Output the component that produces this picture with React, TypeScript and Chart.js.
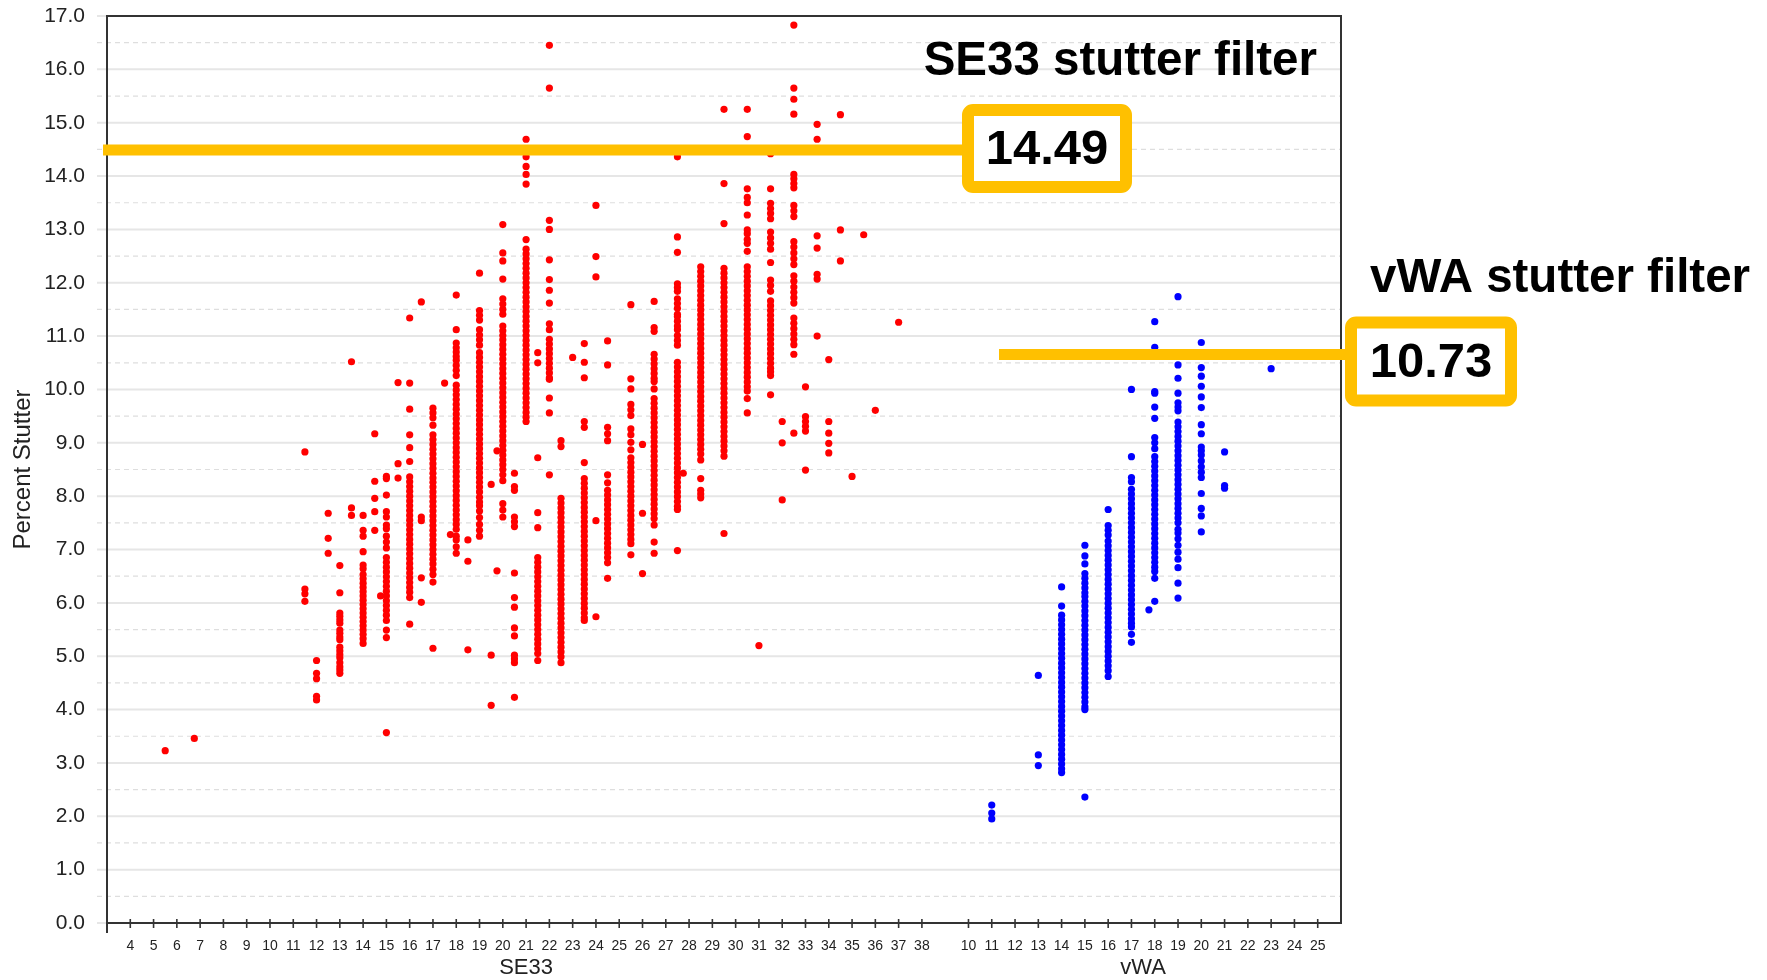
import React, { useEffect, useRef } from "react";
import { Chart, registerables } from "chart.js";

Chart.register(...registerables);

// ---------- axis labels ----------
const SE33_TICK_LABELS = ["4","5","6","7","8","9","10","11","12","13","14","15","16","17","18","19","20","21","22","23","24","25","26","27","28","29","30","31","32","33","34","35","36","37","38"];
const VWA_TICK_LABELS = ["10","11","12","13","14","15","16","17","18","19","20","21","22","23","24","25"];
const LOCUS_TITLES = ["SE33", "vWA"];
const Y_TITLE = "Percent Stutter";
const Y_MIN = 0;
const Y_MAX = 17;

// ---------- stutter filters ----------
const SE33_FILTER = 14.49;
const VWA_FILTER = 10.73;
const FILTER_TITLES = ["SE33 stutter filter", "vWA stutter filter"];

// ---------- SE33 percent stutter, by allele ----------
const SE33_5_2 = [3.23];
const SE33_6_3 = [3.46];
const SE33_11_2 = [8.83, 6.26, 6.17, 6.03];
const SE33_12 = [4.92, 4.68, 4.58, 4.25, 4.18];
const SE33_12_2 = [7.68, 7.21, 6.93];
const SE33_13 = [6.70, 6.19, 5.81, 5.75, 5.68, 5.62, 5.49, 5.43, 5.36, 5.31, 5.17, 5.10, 5.03, 4.97, 4.88, 4.80, 4.74, 4.68];
const SE33_13_2 = [10.52, 7.78, 7.64];
const SE33_14 = [7.64, 7.36, 7.25, 6.96, 6.71, 6.64, 6.53, 6.45, 6.37, 6.29, 6.21, 6.13, 6.05, 5.97, 5.89, 5.81, 5.73, 5.65, 5.57, 5.49, 5.41, 5.33, 5.24];
const SE33_14_2 = [9.17, 8.28, 7.96, 7.71, 7.36];
const SE33_14_3 = [6.13];
const SE33_15 = [8.37, 8.33, 8.02, 7.71, 7.61, 7.46, 7.39, 7.25, 7.14, 7.03, 6.85, 6.76, 6.67, 6.58, 6.49, 6.40, 6.31, 6.22, 6.13, 6.04, 5.95, 5.86, 5.77, 5.67, 5.49, 5.35, 3.57];
const SE33_15_2 = [10.13, 8.61, 8.34];
const SE33_16 = [11.34, 10.12, 9.63, 9.15, 8.91, 8.65, 8.36, 8.27, 8.18, 8.09, 8.00, 7.91, 7.82, 7.73, 7.64, 7.55, 7.46, 7.37, 7.28, 7.19, 7.10, 7.01, 6.92, 6.83, 6.74, 6.65, 6.56, 6.47, 6.38, 6.29, 6.20, 6.10, 5.60];
const SE33_16_2 = [11.64, 7.61, 7.54, 6.47, 6.01];
const SE33_17 = [9.65, 9.56, 9.47, 9.33, 9.15, 9.06, 8.97, 8.88, 8.79, 8.70, 8.61, 8.52, 8.43, 8.34, 8.26, 8.17, 8.08, 7.99, 7.90, 7.81, 7.72, 7.63, 7.54, 7.45, 7.36, 7.27, 7.18, 7.09, 7.00, 6.91, 6.82, 6.73, 6.63, 6.53, 6.39, 5.15];
const SE33_17_2 = [10.12];
const SE33_17_3 = [7.28];
const SE33_18 = [11.77, 11.12, 10.87, 10.78, 10.70, 10.62, 10.55, 10.45, 10.36, 10.26, 10.08, 9.99, 9.90, 9.81, 9.72, 9.63, 9.54, 9.45, 9.36, 9.27, 9.18, 9.09, 9.00, 8.91, 8.82, 8.73, 8.64, 8.55, 8.46, 8.37, 8.28, 8.19, 8.10, 8.01, 7.92, 7.83, 7.74, 7.65, 7.56, 7.47, 7.38, 7.25, 7.18, 7.05, 6.93];
const SE33_18_2 = [7.18, 6.78, 5.12];
const SE33_19 = [12.18, 11.48, 11.39, 11.30, 11.12, 11.02, 10.93, 10.83, 10.69, 10.60, 10.51, 10.42, 10.33, 10.24, 10.15, 10.06, 9.97, 9.88, 9.79, 9.70, 9.61, 9.52, 9.43, 9.34, 9.25, 9.16, 9.07, 8.98, 8.89, 8.80, 8.71, 8.62, 8.53, 8.44, 8.35, 8.26, 8.17, 8.08, 7.98, 7.89, 7.82, 7.72, 7.60, 7.47, 7.36, 7.25];
const SE33_19_2 = [8.22, 5.02, 4.08];
const SE33_19_3 = [8.85, 6.60];
const SE33_20 = [13.09, 12.56, 12.41, 12.07, 11.70, 11.60, 11.50, 11.41, 11.19, 11.10, 11.01, 10.93, 10.84, 10.75, 10.66, 10.57, 10.48, 10.39, 10.30, 10.21, 10.12, 10.03, 9.94, 9.85, 9.76, 9.67, 9.58, 9.49, 9.40, 9.31, 9.22, 9.13, 9.04, 8.95, 8.86, 8.77, 8.68, 8.59, 8.50, 8.40, 8.29, 7.86, 7.74, 7.61];
const SE33_20_2 = [8.43, 8.18, 8.11, 7.61, 7.52, 7.43, 6.56, 6.10, 5.92, 5.53, 5.38, 5.02, 4.95, 4.88, 4.23];
const SE33_21 = [14.69, 14.36, 14.18, 14.03, 13.85, 12.81, 12.63, 12.54, 12.45, 12.36, 12.27, 12.18, 12.09, 12.00, 11.91, 11.82, 11.73, 11.64, 11.55, 11.46, 11.37, 11.28, 11.19, 11.10, 11.01, 10.92, 10.83, 10.74, 10.65, 10.56, 10.47, 10.38, 10.29, 10.20, 10.11, 10.02, 9.93, 9.84, 9.75, 9.66, 9.57, 9.48, 9.40];
const SE33_21_2 = [10.69, 10.50, 8.72, 7.69, 7.41, 6.85, 6.76, 6.67, 6.58, 6.49, 6.40, 6.31, 6.22, 6.13, 6.04, 5.95, 5.86, 5.77, 5.68, 5.59, 5.50, 5.41, 5.32, 5.23, 5.14, 5.05, 4.92];
const SE33_22 = [16.45, 15.65, 13.17, 13.00, 12.43, 12.06, 11.86, 11.62, 11.23, 11.12, 10.94, 10.85, 10.76, 10.67, 10.58, 10.49, 10.40, 10.31, 10.22, 10.19, 9.84, 9.56, 8.40];
const SE33_22_2 = [9.04, 8.93, 7.96, 7.87, 7.78, 7.69, 7.60, 7.51, 7.42, 7.33, 7.24, 7.15, 7.06, 6.97, 6.88, 6.79, 6.70, 6.61, 6.52, 6.43, 6.34, 6.25, 6.16, 6.07, 5.98, 5.89, 5.80, 5.71, 5.62, 5.53, 5.44, 5.35, 5.26, 5.17, 5.08, 4.99, 4.88];
const SE33_23 = [10.60];
const SE33_23_2 = [10.86, 10.51, 10.22, 9.40, 9.29, 8.63, 8.33, 8.24, 8.15, 8.06, 7.97, 7.88, 7.79, 7.70, 7.61, 7.52, 7.43, 7.34, 7.25, 7.16, 7.07, 6.98, 6.89, 6.80, 6.71, 6.62, 6.53, 6.44, 6.35, 6.26, 6.17, 6.08, 5.99, 5.90, 5.81, 5.72, 5.67];
const SE33_24 = [13.45, 12.49, 12.11, 7.54, 5.74];
const SE33_24_2 = [10.91, 10.46, 9.29, 9.17, 9.04, 8.40, 8.25, 8.11, 8.02, 7.93, 7.84, 7.75, 7.66, 7.57, 7.48, 7.39, 7.30, 7.21, 7.12, 7.03, 6.94, 6.85, 6.75, 6.46];
const SE33_25_2 = [11.59, 10.20, 10.01, 9.72, 9.62, 9.51, 9.26, 9.15, 9.01, 8.87, 8.72, 8.63, 8.54, 8.45, 8.36, 8.27, 8.18, 8.09, 8.00, 7.91, 7.82, 7.73, 7.64, 7.55, 7.46, 7.37, 7.28, 7.19, 7.11, 6.90];
const SE33_26 = [8.97, 7.68, 6.55];
const SE33_26_2 = [11.65, 11.16, 11.09, 10.66, 10.57, 10.48, 10.39, 10.30, 10.21, 10.15, 10.01, 9.83, 9.74, 9.65, 9.56, 9.47, 9.38, 9.29, 9.20, 9.11, 9.02, 8.93, 8.84, 8.75, 8.66, 8.57, 8.48, 8.39, 8.30, 8.21, 8.12, 8.03, 7.94, 7.85, 7.76, 7.67, 7.58, 7.46, 7.14, 6.93];
const SE33_27_2 = [14.36, 12.86, 12.57, 11.98, 11.91, 11.84, 11.70, 11.61, 11.52, 11.41, 11.37, 11.28, 11.19, 11.12, 11.01, 10.92, 10.83, 10.51, 10.42, 10.33, 10.24, 10.15, 10.06, 9.97, 9.88, 9.79, 9.70, 9.61, 9.52, 9.43, 9.34, 9.25, 9.16, 9.07, 8.98, 8.89, 8.80, 8.71, 8.62, 8.53, 8.44, 8.35, 8.26, 8.17, 8.08, 7.99, 7.90, 7.81, 7.75, 6.98];
const SE33_27_3 = [8.43];
const SE33_28_2 = [12.30, 12.21, 12.12, 12.03, 11.94, 11.85, 11.76, 11.67, 11.58, 11.49, 11.40, 11.31, 11.22, 11.13, 11.04, 10.95, 10.86, 10.77, 10.68, 10.59, 10.50, 10.41, 10.32, 10.23, 10.14, 10.05, 9.96, 9.87, 9.78, 9.69, 9.60, 9.51, 9.42, 9.33, 9.24, 9.15, 9.06, 8.97, 8.88, 8.79, 8.68, 8.33, 8.11, 8.04, 7.97];
const SE33_29_2 = [15.25, 13.86, 13.11, 12.27, 12.18, 12.09, 12.00, 11.91, 11.82, 11.73, 11.64, 11.55, 11.46, 11.37, 11.28, 11.19, 11.10, 11.01, 10.92, 10.83, 10.74, 10.65, 10.56, 10.47, 10.38, 10.29, 10.20, 10.11, 10.02, 9.93, 9.84, 9.75, 9.66, 9.57, 9.48, 9.39, 9.30, 9.21, 9.12, 9.03, 8.94, 8.85, 8.75, 7.30];
const SE33_30_2 = [15.25, 14.74, 13.76, 13.60, 13.50, 13.27, 12.99, 12.92, 12.81, 12.74, 12.59, 12.30, 12.21, 12.12, 12.03, 11.94, 11.85, 11.76, 11.67, 11.58, 11.49, 11.40, 11.31, 11.22, 11.13, 11.04, 10.95, 10.86, 10.77, 10.68, 10.59, 10.50, 10.41, 10.32, 10.23, 10.14, 10.05, 9.97, 9.83, 9.56];
const SE33_31 = [5.20];
const SE33_31_2 = [14.42, 13.76, 13.49, 13.39, 13.30, 13.20, 12.95, 12.84, 12.74, 12.63, 12.38, 12.05, 11.95, 11.84, 11.66, 11.57, 11.48, 11.39, 11.30, 11.21, 11.12, 11.03, 10.94, 10.85, 10.76, 10.67, 10.58, 10.49, 10.40, 10.33, 10.26, 9.90];
const SE33_32 = [9.40, 9.00, 7.93];
const SE33_32_2 = [16.83, 15.65, 15.44, 15.16, 14.03, 13.95, 13.86, 13.78, 13.45, 13.35, 13.24, 12.77, 12.67, 12.56, 12.45, 12.34, 12.13, 12.03, 11.92, 11.82, 11.72, 11.62, 11.34, 11.24, 11.14, 11.04, 10.94, 10.84, 10.66, 9.18];
const SE33_33 = [10.05, 9.49, 9.40, 9.31, 9.22, 8.49];
const SE33_33_2 = [14.97, 14.69, 12.88, 12.65, 12.16, 12.07, 11.00];
const SE33_34 = [10.56, 9.40, 9.18, 8.99, 8.81];
const SE33_34_2 = [15.15, 12.99, 12.41];
const SE33_35 = [8.37];
const SE33_35_2 = [12.90];
const SE33_36 = [9.61];
const SE33_37 = [11.26];

// ---------- vWA percent stutter, by allele ----------
const VWA_11 = [2.21, 2.06, 1.95];
const VWA_13 = [4.64, 3.15, 2.95];
const VWA_14 = [6.30, 5.94, 5.77, 5.68, 5.59, 5.50, 5.41, 5.32, 5.23, 5.14, 5.05, 4.96, 4.87, 4.78, 4.69, 4.60, 4.51, 4.42, 4.33, 4.24, 4.15, 4.06, 3.97, 3.88, 3.79, 3.70, 3.61, 3.52, 3.43, 3.34, 3.25, 3.16, 3.07, 2.98, 2.89, 2.82];
const VWA_15 = [7.08, 6.88, 6.73, 6.55, 6.46, 6.37, 6.28, 6.19, 6.12, 6.03, 5.94, 5.85, 5.76, 5.67, 5.58, 5.49, 5.40, 5.31, 5.22, 5.13, 5.04, 4.95, 4.86, 4.77, 4.68, 4.59, 4.50, 4.41, 4.32, 4.23, 4.14, 4.05, 4.00, 2.36];
const VWA_16 = [7.75, 7.45, 7.36, 7.27, 7.16, 7.07, 6.98, 6.89, 6.80, 6.71, 6.62, 6.53, 6.44, 6.35, 6.26, 6.17, 6.08, 5.99, 5.90, 5.81, 5.72, 5.63, 5.54, 5.45, 5.36, 5.27, 5.18, 5.09, 5.00, 4.91, 4.82, 4.73, 4.62];
const VWA_17 = [10.00, 8.74, 8.35, 8.27, 8.13, 8.04, 7.95, 7.86, 7.77, 7.68, 7.59, 7.50, 7.41, 7.32, 7.23, 7.14, 7.05, 6.96, 6.87, 6.78, 6.69, 6.60, 6.51, 6.42, 6.33, 6.24, 6.15, 6.06, 5.97, 5.88, 5.79, 5.70, 5.62, 5.55, 5.41, 5.26];
const VWA_17_3 = [5.87];
const VWA_18 = [11.27, 10.79, 9.96, 9.93, 9.67, 9.46, 9.10, 9.00, 8.89, 8.74, 8.65, 8.56, 8.47, 8.38, 8.29, 8.20, 8.11, 8.02, 7.93, 7.84, 7.75, 7.66, 7.57, 7.48, 7.39, 7.30, 7.21, 7.12, 7.03, 6.94, 6.85, 6.76, 6.67, 6.59, 6.46, 6.03];
const VWA_19 = [11.74, 10.46, 10.21, 9.93, 9.75, 9.67, 9.60, 9.39, 9.30, 9.21, 9.12, 9.03, 8.94, 8.85, 8.76, 8.67, 8.58, 8.49, 8.40, 8.31, 8.22, 8.13, 8.04, 7.95, 7.86, 7.77, 7.68, 7.59, 7.50, 7.38, 7.31, 7.20, 7.08, 6.95, 6.82, 6.66, 6.37, 6.09];
const VWA_20 = [10.88, 10.41, 10.25, 10.06, 9.86, 9.66, 9.34, 9.17, 8.92, 8.85, 8.77, 8.66, 8.55, 8.45, 8.35, 8.05, 7.77, 7.63, 7.33];
const VWA_21 = [8.83, 8.20, 8.15];
const VWA_23 = [10.39];

const SE33_COLUMNS: [number, number[]][] = [
  [5.2, SE33_5_2], [6.3, SE33_6_3], [11.2, SE33_11_2], [12, SE33_12], [12.2, SE33_12_2],
  [13, SE33_13], [13.2, SE33_13_2], [14, SE33_14], [14.2, SE33_14_2], [14.3, SE33_14_3],
  [15, SE33_15], [15.2, SE33_15_2], [16, SE33_16], [16.2, SE33_16_2], [17, SE33_17],
  [17.2, SE33_17_2], [17.3, SE33_17_3], [18, SE33_18], [18.2, SE33_18_2], [19, SE33_19],
  [19.2, SE33_19_2], [19.3, SE33_19_3], [20, SE33_20], [20.2, SE33_20_2], [21, SE33_21],
  [21.2, SE33_21_2], [22, SE33_22], [22.2, SE33_22_2], [23, SE33_23], [23.2, SE33_23_2],
  [24, SE33_24], [24.2, SE33_24_2], [25.2, SE33_25_2], [26, SE33_26], [26.2, SE33_26_2],
  [27.2, SE33_27_2], [27.3, SE33_27_3], [28.2, SE33_28_2], [29.2, SE33_29_2], [30.2, SE33_30_2],
  [31, SE33_31], [31.2, SE33_31_2], [32, SE33_32], [32.2, SE33_32_2], [33, SE33_33],
  [33.2, SE33_33_2], [34, SE33_34], [34.2, SE33_34_2], [35, SE33_35], [35.2, SE33_35_2],
  [36, SE33_36], [37, SE33_37],
];
const VWA_COLUMNS: [number, number[]][] = [
  [11, VWA_11], [13, VWA_13], [14, VWA_14], [15, VWA_15], [16, VWA_16], [17, VWA_17],
  [17.3, VWA_17_3], [18, VWA_18], [19, VWA_19], [20, VWA_20], [21, VWA_21], [23, VWA_23],
];

// ---------- position helpers (shared category axis for both loci) ----------
const LOCUS_GAP = 2;
const SE33_FIRST = Number(SE33_TICK_LABELS[0]);
const VWA_FIRST = Number(VWA_TICK_LABELS[0]);
const VWA_OFFSET = SE33_TICK_LABELS.length - 1 + LOCUS_GAP;

// microvariants: .1/.2/.3 placed at quarter steps between repeats
function alleleStep(a: number): number {
  const whole = Math.floor(a + 1e-6);
  const frac = Math.round((a - whole) * 10);
  return whole + frac * 0.25;
}
const se33Pos = (a: number) => alleleStep(a) - SE33_FIRST;
const vwaPos = (a: number) => alleleStep(a) - VWA_FIRST + VWA_OFFSET;

const TICKS: { value: number; label: string }[] = [
  ...SE33_TICK_LABELS.map((l, i) => ({ value: i, label: l })),
  ...VWA_TICK_LABELS.map((l, i) => ({ value: VWA_OFFSET + i, label: l })),
];

function toPoints(cols: [number, number[]][], pos: (a: number) => number) {
  const out: { x: number; y: number }[] = [];
  cols.forEach(([a, vals]) => vals.forEach((v) => out.push({ x: pos(a), y: v })));
  return out;
}

const FONT = "'Liberation Sans', Arial, sans-serif";
const GOLD = "#FFC000";

function roundRectPath(ctx: CanvasRenderingContext2D, x: number, y: number, w: number, h: number, r: number) {
  ctx.beginPath();
  ctx.moveTo(x + r, y);
  ctx.arcTo(x + w, y, x + w, y + h, r);
  ctx.arcTo(x + w, y + h, x, y + h, r);
  ctx.arcTo(x, y + h, x, y, r);
  ctx.arcTo(x, y, x + w, y, r);
  ctx.closePath();
}

function drawFilterBox(ctx: CanvasRenderingContext2D, x: number, y: number, w: number, h: number, text: string) {
  const bw = 12;
  roundRectPath(ctx, x + bw / 2, y + bw / 2, w - bw, h - bw, 5);
  ctx.fillStyle = "#ffffff";
  ctx.fill();
  ctx.lineWidth = bw;
  ctx.strokeStyle = GOLD;
  ctx.lineJoin = "round";
  ctx.stroke();
  ctx.fillStyle = "#000";
  ctx.font = `bold 49px ${FONT}`;
  ctx.textAlign = "center";
  ctx.textBaseline = "middle";
  ctx.fillText(text, x + w / 2, y + h / 2 + 2);
}

const decorPlugin = {
  id: "decor",
  beforeDatasetsDraw(chart: any) {
    const { ctx, chartArea: ca, scales } = chart;
    const ys = scales.y;
    ctx.save();
    for (let k = Y_MIN * 2; k <= Y_MAX * 2; k++) {
      const v = k / 2;
      const y = ys.getPixelForValue(v);
      ctx.beginPath();
      if (k % 2 === 0) {
        ctx.setLineDash([]);
        ctx.strokeStyle = "#e6e6e6";
        ctx.lineWidth = 2;
      } else {
        ctx.setLineDash([5, 4]);
        ctx.strokeStyle = "#dedede";
        ctx.lineWidth = 1.2;
      }
      ctx.moveTo(ca.left - 10, y);
      ctx.lineTo(ca.right, y);
      ctx.stroke();
    }
    ctx.restore();
  },
  afterDatasetsDraw(chart: any) {
    const { ctx, chartArea: ca, scales } = chart;
    const xs = scales.x;
    const ys = scales.y;
    ctx.save();
    // frame
    ctx.strokeStyle = "#333";
    ctx.lineWidth = 2;
    ctx.setLineDash([]);
    ctx.beginPath();
    ctx.moveTo(ca.left, ca.bottom + 10);
    ctx.lineTo(ca.left, ca.top);
    ctx.lineTo(ca.right, ca.top);
    ctx.lineTo(ca.right, ca.bottom);
    ctx.lineTo(ca.left, ca.bottom);
    ctx.stroke();
    // x tick marks crossing the axis
    ctx.lineWidth = 1.6;
    TICKS.forEach((t) => {
      const x = xs.getPixelForValue(t.value);
      ctx.beginPath();
      ctx.moveTo(x, ca.bottom - 4);
      ctx.lineTo(x, ca.bottom + 5);
      ctx.stroke();
    });
    // locus titles
    ctx.fillStyle = "#222";
    ctx.font = `22px ${FONT}`;
    ctx.textAlign = "center";
    ctx.textBaseline = "middle";
    const se33Mid = (0 + SE33_TICK_LABELS.length - 1) / 2;
    const vwaMid = VWA_OFFSET + (VWA_TICK_LABELS.length - 1) / 2;
    ctx.fillText(LOCUS_TITLES[0], xs.getPixelForValue(se33Mid), 968);
    ctx.fillText(LOCUS_TITLES[1], xs.getPixelForValue(vwaMid), 968);
    // y title
    ctx.save();
    ctx.translate(23, (ca.top + ca.bottom) / 2);
    ctx.rotate(-Math.PI / 2);
    ctx.font = `24px ${FONT}`;
    ctx.fillText(Y_TITLE, 0, 0);
    ctx.restore();

    // SE33 filter line + box
    const ySe = ys.getPixelForValue(SE33_FILTER);
    ctx.strokeStyle = GOLD;
    ctx.lineWidth = 11;
    ctx.lineCap = "butt";
    ctx.beginPath();
    ctx.moveTo(103, ySe);
    ctx.lineTo(966, ySe);
    ctx.stroke();
    drawFilterBox(ctx, 962, ySe - 46, 170, 89, SE33_FILTER.toFixed(2));

    // vWA filter line + box
    const yVw = ys.getPixelForValue(VWA_FILTER);
    ctx.strokeStyle = GOLD;
    ctx.lineWidth = 11;
    ctx.beginPath();
    ctx.moveTo(999, yVw + 4);
    ctx.lineTo(1349, yVw + 4);
    ctx.stroke();
    drawFilterBox(ctx, 1345, yVw - 34, 172, 90, VWA_FILTER.toFixed(2));

    // titles
    ctx.fillStyle = "#000";
    ctx.font = `bold 47.5px ${FONT}`;
    ctx.textBaseline = "alphabetic";
    ctx.textAlign = "right";
    ctx.fillText(FILTER_TITLES[0], 1317, 75);
    ctx.textAlign = "left";
    ctx.fillText(FILTER_TITLES[1], 1370, 292);
    ctx.restore();
  },
};

export default function App() {
  const canvasRef = useRef<HTMLCanvasElement | null>(null);

  useEffect(() => {
    document.body.style.margin = "0";
    const canvas = canvasRef.current;
    if (!canvas) return;
    const chart = new Chart(canvas, {
      type: "scatter",
      data: {
        datasets: [
          {
            label: "SE33",
            data: toPoints(SE33_COLUMNS, se33Pos),
            backgroundColor: "#ff0000",
            borderWidth: 0,
            pointRadius: 3.6,
            pointHoverRadius: 3.6,
          },
          {
            label: "vWA",
            data: toPoints(VWA_COLUMNS, vwaPos),
            backgroundColor: "#0000ff",
            borderWidth: 0,
            pointRadius: 3.6,
            pointHoverRadius: 3.6,
          },
        ],
      },
      plugins: [decorPlugin],
      options: {
        animation: false,
        responsive: true,
        maintainAspectRatio: false,
        layout: { padding: { top: 16, right: 426, left: 0, bottom: 0 } },
        plugins: { legend: { display: false }, tooltip: { enabled: false } },
        scales: {
          x: {
            type: "linear",
            min: -1,
            max: SE33_TICK_LABELS.length + LOCUS_GAP + VWA_TICK_LABELS.length - 1,
            grid: { display: false, drawTicks: true, tickLength: 6 },
            border: { display: false },
            afterBuildTicks: (scale: any) => {
              scale.ticks = TICKS.map((t) => ({ value: t.value }));
            },
            afterFit: (scale: any) => {
              scale.height = 57;
            },
            ticks: {
              autoSkip: false,
              maxRotation: 0,
              padding: 9,
              color: "#222",
              font: { family: FONT, size: 14 },
              callback: (v: any) => {
                const t = TICKS.find((tt) => Math.abs(tt.value - Number(v)) < 1e-6);
                return t ? t.label : "";
              },
            },
          },
          y: {
            min: Y_MIN,
            max: Y_MAX,
            grid: { display: false, drawTicks: true, tickLength: 22 },
            border: { display: false },
            afterFit: (scale: any) => {
              scale.width = 107;
            },
            ticks: {
              stepSize: 1,
              padding: 0,
              color: "#222",
              font: { family: FONT, size: 21 },
              callback: (v: any) => Number(v).toFixed(1),
            },
          },
        },
      },
    });
    return () => chart.destroy();
  }, []);

  return (
    <div style={{ position: "fixed", left: 0, top: 0, width: 1767, height: 980, background: "#fff" }}>
      <canvas ref={canvasRef} />
    </div>
  );
}
